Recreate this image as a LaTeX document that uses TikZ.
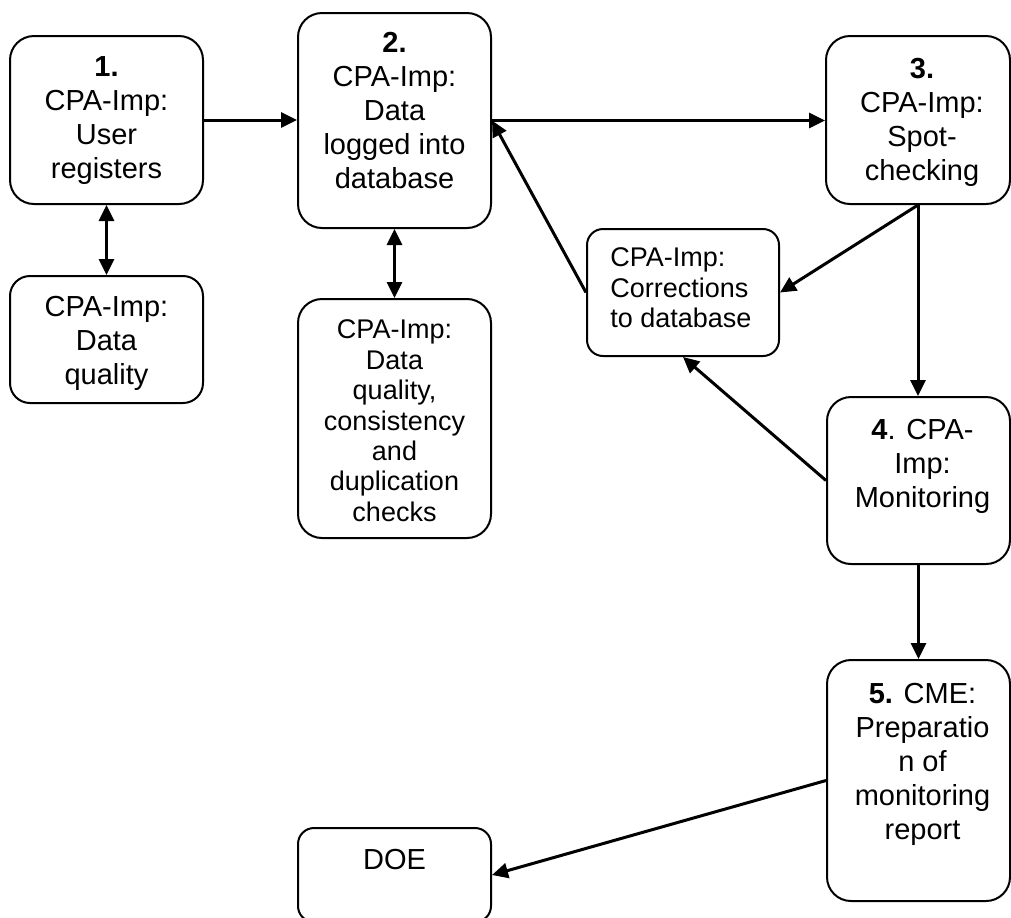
\documentclass[tikz,border=0pt]{standalone}
\usepackage{fontspec}
\setmainfont{Liberation Sans}
\usetikzlibrary{arrows.meta}
\begin{document}
\begin{tikzpicture}[x=0.5pt,y=-0.5pt,line join=round]

	\tikzstyle{box}=[draw,line width=1pt,rounded corners=12pt,minimum width=96.5pt,inner sep=0pt]
	\tikzstyle{txt}=[anchor=north,align=center,inner sep=0pt,yshift=-10.8pt,font=\fontsize{14.5}{17}\selectfont]
	\tikzstyle{stxt}=[txt,font=\fontsize{13.5}{15.2}\selectfont]
	\tikzstyle{flow}=[-{Triangle[length=8pt,width=7.5pt]},line width=1.5pt]
	\tikzstyle{twoway}=[{Triangle[length=8pt,width=7.5pt]}-{Triangle[length=8pt,width=7.5pt]},line width=1.5pt]

	\useasboundingbox (0,0) rectangle (1011,917);

	% boxes
	\node[box,minimum height=84pt] 	(reg)	at (106.5,120)	{};
	\node[box,minimum height=63.5pt,rounded corners=10pt] 	(dq)	at (106.5,339.5)	{};
	\node[box,minimum height=107.5pt] 	(logged)	at (394.5,120.5)	{};
	\node[box,minimum height=119.5pt] 	(checks)	at (394.5,418.5)	{};
	\node[box,minimum width=92pt,minimum height=84pt] 	(spot)	at (918,120)	{};
	\node[box,minimum width=96pt,minimum height=63.5pt,rounded corners=8pt] 	(corr)	at (683,292.5)	{};
	\node[box,minimum width=91.5pt,minimum height=83.5pt] 	(monit)	at (918.5,480.5)	{};
	\node[box,minimum width=91.5pt,minimum height=120.5pt] 	(report)	at (918.5,780.5)	{};
	\node[box,minimum height=47pt,rounded corners=8pt] 	(doe)	at (394.5,875)	{};

	% texts
	\node[txt] 	(regtxt)	at (reg.north)	{\textbf{1.}\\CPA-Imp:\\User\\registers};
	\node[txt,yshift=0.5pt] 	(dqtxt)	at (dq.north)	{CPA-Imp:\\Data\\quality};
	\node[txt,yshift=1pt] 	(loggedtxt)	at (logged.north)	{\textbf{2.}\\CPA-Imp:\\Data\\logged into\\database};
	\node[stxt] 	(checkstxt)	at (checks.north)	{CPA-Imp:\\Data\\quality,\\consistency\\and\\duplication\\checks};
	\node[txt,xshift=2pt,yshift=-0.5pt] 	(spottxt)	at (spot.north)	{\textbf{3.}\\CPA-Imp:\\Spot-\\checking};
	\node[stxt,anchor=north west,align=left,xshift=12pt,yshift=1pt] 	(corrtxt)	at (corr.north west)	{CPA-Imp:\\Corrections\\to database};
	\node[txt,xshift=2pt,yshift=-0.5pt] 	(monittxt)	at (monit.north)	{\textbf{4}. CPA-\\Imp:\\Monitoring};
	\node[txt,xshift=2pt,yshift=-1pt] 	(reporttxt)	at (report.north)	{\textbf{5.} CME:\\Preparatio\\n of\\monitoring\\report};
	\node[txt] 	(doetxt)	at (doe.north)	{DOE};

	% arrows
	\draw[flow] (reg.east) -- (reg.east -| logged.west);
	\draw[flow] (logged.east) -- (logged.east -| spot.west);
	\draw[twoway] (reg.south) -- (dq.north);
	\draw[twoway] (logged.south) -- (checks.north);
	\draw[flow] (spot.south) -- (corr.east);
	\draw[flow] (spot.south) -- (spot.south |- monit.north);
	\draw[flow] (corr.west) -- (logged.east);
	\draw[flow] (monit.west) -- (corr.south);
	\draw[flow] (monit.south) -- (monit.south |- report.north);
	\draw[flow] (report.west) -- (doe.east);
\end{tikzpicture}
\end{document}
